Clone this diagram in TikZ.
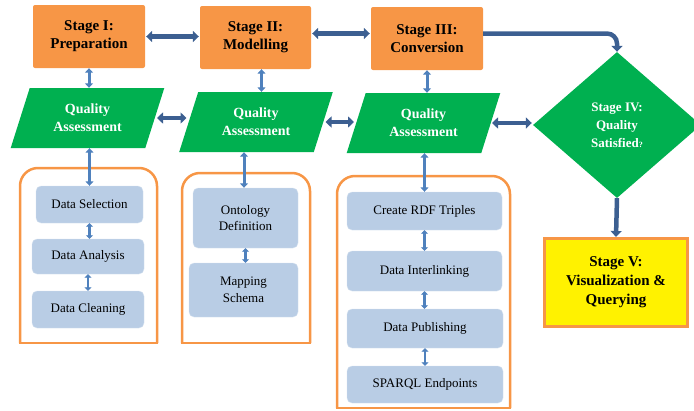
\documentclass[tikz,border=0pt]{standalone}
\usepackage{fontspec}
\setmainfont{Liberation Serif}
\newfontfamily\tnr{Liberation Serif}
\usetikzlibrary{arrows.meta,shapes.geometric}
\definecolor{stor}{HTML}{F79646}
\definecolor{qgreen}{HTML}{00B050}
\definecolor{dkblue}{RGB}{60,95,145}
\definecolor{ltblue}{HTML}{4F81BD}
\definecolor{boxblue}{HTML}{B9CDE5}
\begin{document}
\begin{tikzpicture}[x=1pt,y=-1pt,
  stagebox/.style={fill=stor, rounded corners=2pt, minimum width=112pt, minimum height=63pt, align=center, font=\tnr\fontsize{15}{18}\selectfont\bfseries, inner sep=0pt},
  qabox/.style={trapezium, trapezium left angle=68, trapezium right angle=112, trapezium stretches=true, fill=qgreen, minimum width=155pt, minimum height=60pt, text=white, font=\tnr\fontsize{14}{18}\selectfont\bfseries, align=center, inner sep=0pt},
  inbox/.style={fill=boxblue, draw=boxblue!60!white, rounded corners=5pt, align=center, font=\tnr\fontsize{13}{16.5}\selectfont, inner sep=0pt},
  container/.style={draw=stor, line width=2.5pt, rounded corners=18pt},
  darr/.style={draw=dkblue, line width=4.5pt, {Triangle[length=6pt,width=11pt]}-{Triangle[length=6pt,width=11pt]}},
  darrone/.style={draw=dkblue, line width=4.5pt, -{Triangle[length=6pt,width=11pt]}},
  larr/.style={draw=ltblue, line width=3pt, {Triangle[length=4.5pt,width=8pt]}-{Triangle[length=4.5pt,width=8pt]}},
  sarr/.style={draw=ltblue, line width=2.5pt, {Triangle[length=3.5pt,width=7pt]}-{Triangle[length=3.5pt,width=7pt]}}
]
\clip (0,0) rectangle (694,410);

% containers
\draw[container] (20,343) -- (20,168) -- (157,168) -- (157,343);
\draw[draw=stor, line width=2.5pt, line cap=rect] (20,343) -- (157,343);
\draw[container] (182,343) -- (182,173) -- (310,173) -- (310,343);
\draw[draw=stor, line width=2.5pt, line cap=rect] (182,343) -- (310,343);
\draw[container] (337,408) -- (337,176) -- (510,176) -- (510,408);
\draw[draw=stor, line width=2.5pt, line cap=rect] (337,408) -- (510,408);

% stages
\node[stagebox] (s1) at (89,36.5) {Stage I:\\Preparation};
\node[stagebox, minimum width=111pt] (s2) at (255.5,37.5) {Stage II:\\Modelling};
\node[stagebox] (s3) at (427,38.5) {Stage III:\\Conversion};

% quality assessment
\node[qabox] (q1) at (87.5,118) {Quality\\Assessment};
\node[qabox] (q2) at (256,122) {Quality\\Assessment};
\node[qabox] (q3) at (423.5,123) {Quality\\Assessment};

% decision
\node[diamond, fill=qgreen, minimum width=168pt, minimum height=146pt, inner sep=0pt, text=white, align=center, font=\tnr\fontsize{13}{18}\selectfont\bfseries] (d) at (617,125) {Stage IV:\\Quality\\Satisfied{\fontsize{8}{8}\selectfont ?}};

% stage V
\node[fill=yellow, draw=stor, line width=3pt, minimum width=143pt, minimum height=88pt, align=center, font=\tnr\fontsize{15}{19}\selectfont\bfseries, inner sep=0pt] (s5) at (616,282.5) {Stage V:\\Visualization \&\\Querying};

% inner boxes
\node[inbox, minimum width=107pt, minimum height=37pt] (ds) at (89.5,204.5) {Data Selection};
\node[inbox, minimum width=112pt, minimum height=35pt] (da) at (88,256.5) {Data Analysis};
\node[inbox, minimum width=112pt, minimum height=37pt] (dc) at (88,309.5) {Data Cleaning};
\node[inbox, minimum width=105pt, minimum height=60pt] (od) at (245.5,218) {Ontology\\Definition};
\node[inbox, minimum width=109pt, minimum height=54pt] (ms) at (243.5,290) {Mapping\\Schema};
\node[inbox, minimum width=155pt, minimum height=38pt] (rdf) at (424.5,211) {Create RDF Triples};
\node[inbox, minimum width=155pt, minimum height=40pt] (dil) at (424.5,271) {Data Interlinking};
\node[inbox, minimum width=156pt, minimum height=39pt] (dp) at (425,328.5) {Data Publishing};
\node[inbox, minimum width=156pt, minimum height=37pt] (sp) at (425,384.5) {SPARQL Endpoints};

% dark blue connectors
\draw[darr, shorten <=1pt, shorten >=1pt] (s1.east) -- (s1.east -| s2.west);
\draw[darr, shorten <=1pt, shorten >=1pt] ([yshift=4pt]s2.east) -- ([yshift=4pt]s2.east -| s3.west);
\draw[darrone, rounded corners=10pt] ([yshift=5pt]s3.east) -| (d.north);
\draw[darr, shorten <=2pt, shorten >=2pt] (q1.east) -- (q1.east -| q2.west);
\draw[darr, shorten <=2pt, shorten >=2pt] (q2.east) -- (q2.east -| q3.west);
\draw[darr, shorten <=1pt, shorten >=1pt] (q3.east) -- (q3.east -| d.west);
\draw[darrone] (d.south) -- (s5.north);

% light blue vertical connectors
\draw[larr] (s1.south) -- (s1.south |- q1.north);
\draw[larr] ([xshift=6pt]s2.south) -- ([xshift=6pt]s2.south |- q2.north);
\draw[larr] (s3.south) -- (s3.south |- q3.north);
\draw[larr] (ds.north |- q1.south) -- (ds.north);
\draw[larr] ([xshift=-1.5pt]od.north |- q2.south) -- ([xshift=-1.5pt]od.north);
\draw[larr] (rdf.north |- q3.south) -- (rdf.north);

% small connectors between inner boxes
\draw[sarr] (ds.south) -- (ds.south |- da.north);
\draw[sarr] (da.south) -- (da.south |- dc.north);
\draw[sarr] (od.south) -- (od.south |- ms.north);
\draw[sarr] (rdf.south) -- (rdf.south |- dil.north);
\draw[sarr] (dil.south) -- (dil.south |- dp.north);
\draw[sarr] (dp.south) -- (dp.south |- sp.north);
\end{tikzpicture}
\end{document}
